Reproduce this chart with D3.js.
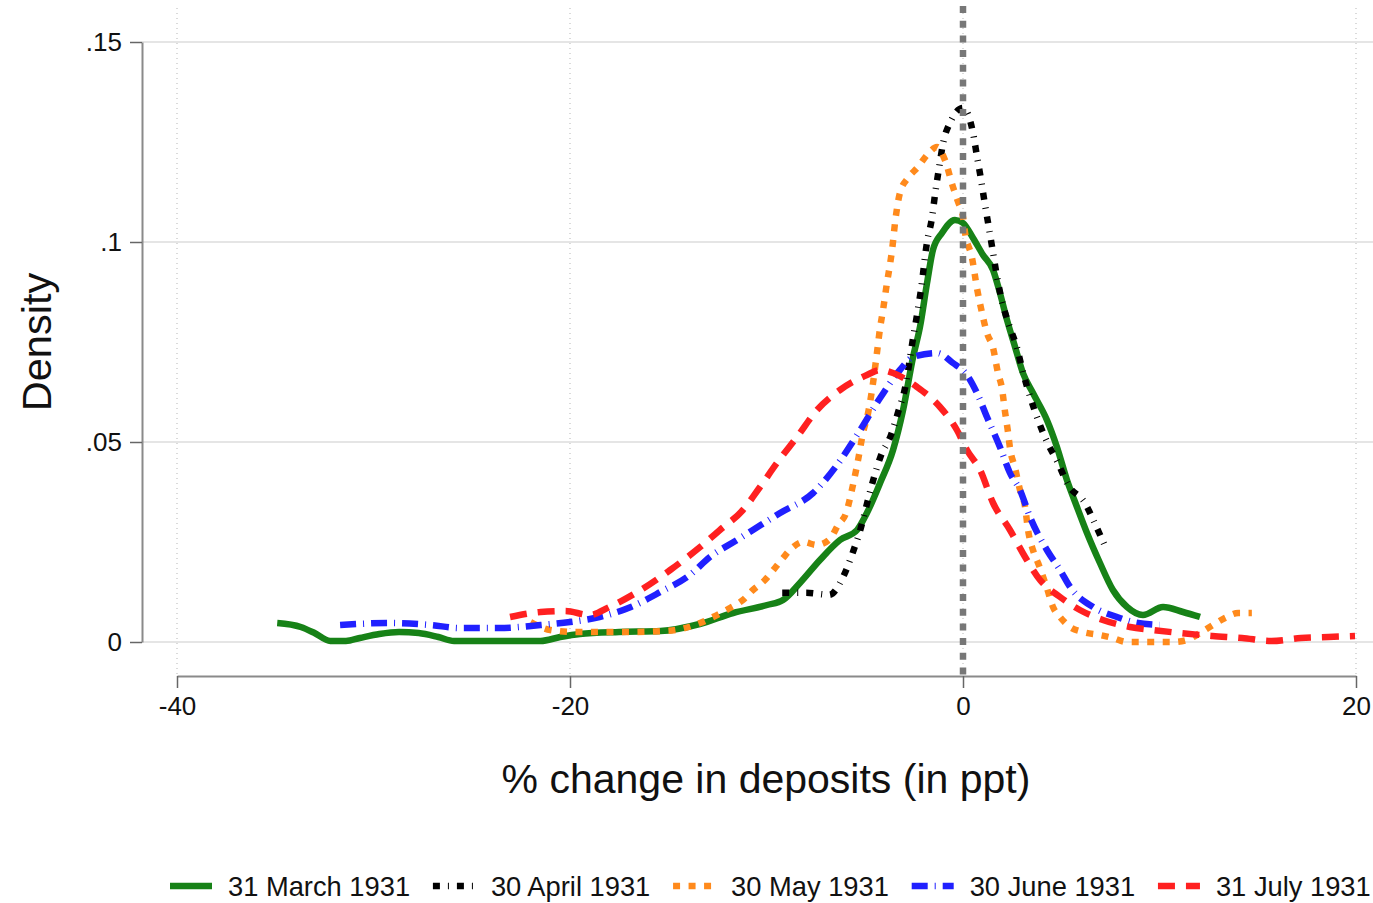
<!DOCTYPE html>
<html>
<head>
<meta charset="utf-8">
<script src="https://cdn.jsdelivr.net/npm/d3@7"></script>
<style>
  html, body { margin: 0; padding: 0; background: #fff; }
  svg text { font-family: "Liberation Sans", Arial, Helvetica, sans-serif; fill: #111; }
</style>
</head>
<body>
<svg id="chart" width="1373" height="903"></svg>
<script>
// Kernel density curves: [x (% change), density]
const march = [[-34.9, .00475], [-33.7, .00375], [-33.0, .00225], [-32.2, .00025], [-31.4, .00025], [-30.7, .001],
    [-29.7, .002], [-28.7, .0025], [-27.7, .00225], [-26.7, .00125], [-25.9, .00025], [-21.5, .00025], [-20.5, .00125],
    [-19.5, .002], [-17.5, .0025], [-15.4, .00275], [-13.4, .0045], [-11.7, .00725], [-9.97, .00925], [-9.16, .0105],
    [-8.3, .01475], [-7.28, .0205], [-6.26, .0255], [-5.39, .028], [-4.89, .03225], [-4.22, .03975], [-3.56, .048],
    [-3.05, .058], [-2.54, .07125], [-2.19, .07875], [-1.83, .08975], [-1.53, .098], [-1.07, .10225], [-0.41, .1055],
    [0, .10475], [0.51, .101], [1.02, .09675], [1.53, .093], [1.88, .08725], [2.24, .0805], [2.65, .07375], [3.05, .06725],
    [3.56, .06225], [4.27, .0555], [4.78, .04875], [5.29, .0405], [5.8, .03375], [6.31, .02725], [6.97, .01975],
    [7.63, .013], [8.35, .00875], [9.16, .00675], [10.18, .00875], [11.2, .0075], [12.06, .00625]];

const april = [[-9.2, .0123], [-8.0, .0123], [-6.8, .0118], [-6.1, .0163], [-5.6, .0225], [-5.2, .0285], [-4.9, .0343],
    [-4.58, .0403], [-4.2, .0463], [-3.66, .0518], [-3.3, .0575], [-2.95, .0635], [-2.54, .076], [-2.34, .0818],
    [-2.14, .088], [-1.83, .1], [-1.58, .106], [-1.42, .112], [-1.22, .1185], [-1.02, .1245], [-0.61, .1303], [0, .1335],
    [0.5, .1275], [0.71, .1215], [0.92, .1155], [1.12, .1093], [1.32, .1035], [1.53, .0973], [1.73, .0913], [1.98, .0853],
    [2.34, .0793], [2.75, .0735], [3.05, .0675], [3.82, .0555], [4.28, .05], [4.83, .0448], [5.34, .0393], [6.2, .0348],
    [6.77, .029], [7.27, .0235]];

const may = [[-22.0, .005], [-21.0, .003], [-19.8, .0025], [-17.0, .0025], [-15.0, .0028], [-13.38, .00475],
    [-12.72, .00625], [-11.86, .0085], [-11.2, .0105], [-10.69, .013], [-10.08, .0155], [-9.57, .0185], [-9.16, .021],
    [-8.7, .0235], [-8.14, .025], [-7.43, .02425], [-6.77, .02575], [-6.36, .02925], [-5.95, .03225], [-5.6, .03925],
    [-5.34, .0455], [-5.09, .05225], [-4.83, .05725], [-4.63, .063], [-4.38, .07225], [-4.22, .0785], [-4.07, .083],
    [-3.87, .08975], [-3.72, .09425], [-3.61, .098], [-3.46, .10475], [-3.21, .11225], [-2.8, .116], [-2.29, .11875],
    [-1.83, .12175], [-1.32, .12375], [-0.92, .1205], [-0.51, .11375], [-0.25, .11], [0, .10625], [0.1, .1025],
    [0.46, .096], [0.71, .0885], [0.97, .08225], [1.22, .07725], [1.53, .0735], [1.78, .06725], [1.98, .0635],
    [2.14, .0575], [2.29, .0525], [2.39, .0485], [2.65, .0435], [2.9, .038], [3.16, .03375], [3.31, .028], [3.56, .023],
    [3.82, .01975], [4.27, .0135], [4.58, .00875], [4.94, .00625], [5.45, .00375], [6.1, .0025], [6.97, .00175],
    [7.63, .001], [8.35, 0], [9.87, 0], [10.7, 0], [11.4, .0005], [12.06, .00225], [12.72, .00425], [13.33, .006],
    [14.0, .00725], [14.7, .00725]];

const june = [[-31.7, .00425], [-29.2, .00475], [-27.1, .00425], [-25.6, .0035], [-23.6, .0035], [-21.5, .00425],
    [-20, .005], [-18.5, .00625], [-16.9, .00875], [-15.4, .0125], [-13.9, .01675], [-12.88, .02125], [-11.5, .0255],
    [-10.69, .028], [-9.31, .03225], [-7.63, .03725], [-6.41, .04425], [-5.39, .05175], [-4.22, .061], [-3.21, .068],
    [-2.54, .07125], [-1.32, .07225], [-0.51, .06975], [0.2, .06675], [0.71, .06225], [1.22, .05625], [1.88, .04875],
    [2.39, .04225], [2.9, .038], [3.41, .03125], [4.27, .023], [4.94, .018], [5.45, .01375], [6.62, .00875],
    [7.84, .00625], [8.65, .005], [10.0, .00425]];

const july = [[-23.05, .00625], [-21.5, .0075], [-20.25, .00775], [-19, .00675], [-18, .00875], [-16.4, .013],
    [-14.9, .018], [-13.38, .02375], [-12.37, .028], [-11.2, .033], [-10.33, .03875], [-9.47, .04475], [-8.45, .05125],
    [-7.43, .058], [-6.26, .063], [-4.89, .06675], [-4.22, .068], [-3.56, .06725], [-2.34, .06375], [-1.17, .05875],
    [-0.31, .053], [0.2, .048], [0.87, .043], [1.53, .03475], [2.39, .028], [3.16, .02125], [3.92, .0155], [4.94, .01125],
    [5.95, .008], [7.12, .0055], [8.5, .00375], [9.67, .003], [11.04, .00225], [12.7, .0015], [14.2, .001],
    [15.7, .00025], [17.2, .001], [18.6, .00125], [19.95, .0015]];

const seriesNames = ['31 March 1931', '30 April 1931', '30 May 1931', '30 June 1931', '31 July 1931'];
const xTicks = [-40, -20, 0, 20];
const yTicks = [0, .05, .1, .15];
const yTickLabels = ['0', '.05', '.1', '.15'];

const svg = d3.select('svg#chart');

// No Magic Number !
const lineWidth = 6.5,
    gridColor = '#dcdcdc',
    axisColor = '#8a8a8a',
    legendY = 886;

const styles = [
    { color: '#178217', dash: null },
    { color: '#000000', dash: '7,8,1,8' },
    { color: '#ff8a1c', dash: '7,8.5' },
    { color: '#2020ff', dash: '16,7,1,7' },
    { color: '#ff2020', dash: '17,11' }
];
const allSeries = [march, april, may, june, july];

const x = d3.scaleLinear().domain([-40, 20]).range([177, 1356]);
const y = d3.scaleLinear().domain([0, .15]).range([642, 42]);

svg.append('rect').attr('width', 1373).attr('height', 903).attr('fill', '#fff');

/**
 * Grid
 */
yTicks.forEach(v => {
    svg.append('line')
        .attr('x1', 142).attr('x2', 1373)
        .attr('y1', y(v)).attr('y2', y(v))
        .attr('stroke', gridColor).attr('stroke-width', 1.5);
});
xTicks.forEach(v => {
    svg.append('line')
        .attr('x1', x(v)).attr('x2', x(v))
        .attr('y1', 8).attr('y2', 676)
        .attr('stroke', '#b5b5b5').attr('stroke-width', 1)
        .attr('stroke-dasharray', '1,4');
});

/**
 * Axes
 */
const yAxis = svg.append('g')
    .attr('transform', 'translate(142,0)')
    .call(d3.axisLeft(y).tickValues(yTicks).tickFormat((d, i) => yTickLabels[i])
        .tickSize(12).tickSizeOuter(0).tickPadding(8));
const xAxis = svg.append('g')
    .attr('transform', 'translate(0,676)')
    .call(d3.axisBottom(x).tickValues(xTicks).tickFormat(d => String(d))
        .tickSize(12).tickSizeOuter(0).tickPadding(9));

[yAxis, xAxis].forEach(g => {
    g.select('.domain').attr('stroke', axisColor).attr('stroke-width', 2);
    g.selectAll('.tick line').attr('stroke', '#666').attr('stroke-width', 1.5);
    g.selectAll('.tick text').attr('font-size', 26).attr('fill', '#111')
        .style('font-family', '"Liberation Sans", Arial, Helvetica, sans-serif');
});

svg.append('text')
    .text('% change in deposits (in ppt)')
    .attr('x', 766).attr('y', 793)
    .attr('text-anchor', 'middle')
    .attr('font-size', 41);

svg.append('text')
    .text('Density')
    .attr('transform', 'translate(51,342) rotate(-90)')
    .attr('text-anchor', 'middle')
    .attr('font-size', 41.5);

/**
 * Density lines
 */
const line = d3.line()
    .x(d => x(d[0]))
    .y(d => y(d[1]))
    .curve(d3.curveMonotoneX);

allSeries.forEach((data, i) => {
    svg.append('path')
        .datum(data)
        .attr('d', line)
        .attr('fill', 'none')
        .attr('stroke', styles[i].color)
        .attr('stroke-width', lineWidth)
        .attr('stroke-linejoin', 'round')
        .attr('stroke-dasharray', styles[i].dash);
});

// zero reference line, drawn on top as in the reference
svg.append('line')
    .attr('x1', x(0)).attr('x2', x(0))
    .attr('y1', 6).attr('y2', 676)
    .attr('stroke', '#777').attr('stroke-width', 6.5)
    .attr('stroke-dasharray', '7,7.7');

/**
 * Legend
 */
let legendX = 170;
seriesNames.forEach((name, i) => {
    svg.append('line')
        .attr('x1', legendX).attr('x2', legendX + 42)
        .attr('y1', legendY).attr('y2', legendY)
        .attr('stroke', styles[i].color)
        .attr('stroke-width', lineWidth)
        .attr('stroke-dasharray', styles[i].dash);
    const t = svg.append('text')
        .text(name)
        .attr('x', legendX + 58)
        .attr('y', legendY + 9.5)
        .attr('font-size', 27.3);
    legendX += 58 + t.node().getComputedTextLength() + 22.8;
});
</script>
</body>
</html>
